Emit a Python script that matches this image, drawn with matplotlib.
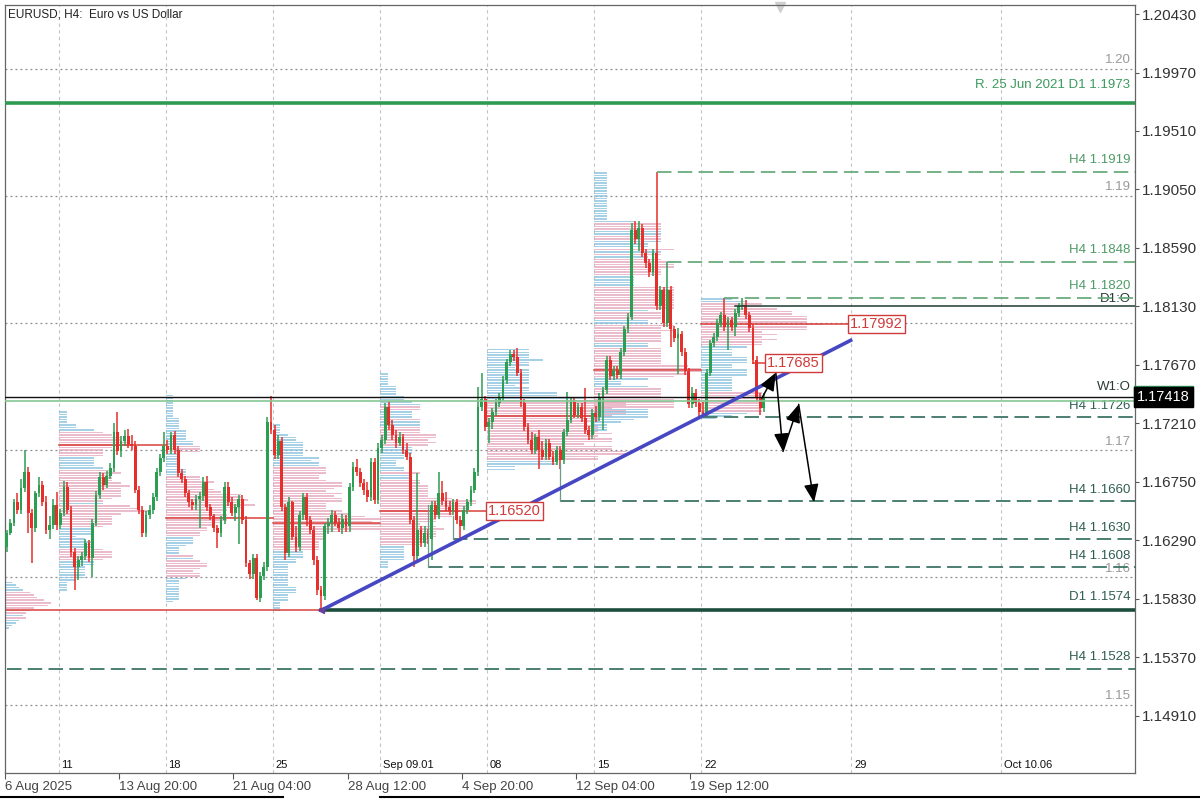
import numpy as np
import matplotlib.pyplot as plt
from matplotlib.lines import Line2D
from matplotlib.transforms import blended_transform_factory

plt.rcParams['font.family'] = ['Liberation Sans', 'DejaVu Sans']

# ---------------- data: H4 candles (open, high, low, close) ----------------
aug06 = [(1.1624, 1.1637, 1.1620, 1.1635), (1.1635, 1.1646, 1.1633, 1.1643), (1.1643, 1.1662, 1.1640, 1.1659),
         (1.1659, 1.1666, 1.1650, 1.1653), (1.1653, 1.1677, 1.1650, 1.1670), (1.1670, 1.1700, 1.1667, 1.1683),
         (1.1683, 1.1687, 1.1635, 1.1651), (1.1651, 1.1654, 1.1611, 1.1639), (1.1639, 1.1668, 1.1636, 1.1666),
         (1.1666, 1.1679, 1.1663, 1.1673), (1.1673, 1.1676, 1.1656, 1.1659), (1.1659, 1.1664, 1.1634, 1.1637),
         (1.1637, 1.1648, 1.1630, 1.1641), (1.1641, 1.1662, 1.1638, 1.1657), (1.1657, 1.1667, 1.1637, 1.1641)]

aug11 = [(1.1641, 1.1654, 1.1638, 1.1651), (1.1651, 1.1676, 1.1648, 1.1671), (1.1671, 1.1675, 1.1650, 1.1653),
         (1.1653, 1.1656, 1.1616, 1.1620), (1.1620, 1.1623, 1.1590, 1.1608), (1.1608, 1.1617, 1.1598, 1.1614),
         (1.1614, 1.1620, 1.1609, 1.1617), (1.1617, 1.1630, 1.1614, 1.1627), (1.1627, 1.1629, 1.1612, 1.1615),
         (1.1615, 1.1646, 1.1600, 1.1643), (1.1643, 1.1668, 1.1640, 1.1665), (1.1665, 1.1683, 1.1662, 1.1679),
         (1.1679, 1.1682, 1.1669, 1.1673), (1.1673, 1.1684, 1.1670, 1.1680), (1.1680, 1.1690, 1.1677, 1.1686),
         (1.1686, 1.1721, 1.1683, 1.1714), (1.1714, 1.1730, 1.1696, 1.1699), (1.1699, 1.1711, 1.1695, 1.1707),
         (1.1707, 1.1716, 1.1703, 1.1711), (1.1711, 1.1717, 1.1702, 1.1705), (1.1705, 1.1712, 1.1700, 1.1703),
         (1.1703, 1.1707, 1.1666, 1.1669), (1.1669, 1.1672, 1.1650, 1.1653), (1.1653, 1.1656, 1.1632, 1.1635),
         (1.1635, 1.1652, 1.1632, 1.1649), (1.1649, 1.1657, 1.1646, 1.1653), (1.1653, 1.1666, 1.1650, 1.1663),
         (1.1663, 1.1686, 1.1660, 1.1683), (1.1683, 1.1697, 1.1680, 1.1694), (1.1694, 1.1714, 1.1691, 1.1703)]

aug18 = [(1.1703, 1.1708, 1.1697, 1.1700), (1.1700, 1.1714, 1.1697, 1.1712), (1.1712, 1.1715, 1.1697, 1.1700),
         (1.1700, 1.1703, 1.1679, 1.1682), (1.1682, 1.1685, 1.1674, 1.1677), (1.1677, 1.1680, 1.1663, 1.1666),
         (1.1666, 1.1669, 1.1655, 1.1659), (1.1659, 1.1662, 1.1653, 1.1657), (1.1657, 1.1665, 1.1653, 1.1662),
         (1.1662, 1.1667, 1.1639, 1.1664), (1.1664, 1.1679, 1.1660, 1.1675), (1.1675, 1.1680, 1.1652, 1.1655),
         (1.1655, 1.1658, 1.1645, 1.1648), (1.1648, 1.1650, 1.1636, 1.1639), (1.1639, 1.1641, 1.1623, 1.1635),
         (1.1635, 1.1648, 1.1632, 1.1645), (1.1645, 1.1675, 1.1642, 1.1671), (1.1671, 1.1675, 1.1656, 1.1659),
         (1.1659, 1.1663, 1.1648, 1.1651), (1.1651, 1.1658, 1.1644, 1.1655), (1.1655, 1.1665, 1.1626, 1.1662),
         (1.1662, 1.1665, 1.1642, 1.1645), (1.1645, 1.1648, 1.1608, 1.1611), (1.1611, 1.1614, 1.1599, 1.1603),
         (1.1603, 1.1618, 1.1599, 1.1615), (1.1615, 1.1618, 1.1582, 1.1584), (1.1584, 1.1604, 1.1581, 1.1601),
         (1.1601, 1.1612, 1.1598, 1.1608), (1.1608, 1.1726, 1.1605, 1.1722), (1.1722, 1.1743, 1.1713, 1.1716)]

aug25 = [(1.1716, 1.1720, 1.1693, 1.1696), (1.1696, 1.1712, 1.1693, 1.1707), (1.1707, 1.1710, 1.1652, 1.1655),
         (1.1655, 1.1658, 1.1614, 1.1619), (1.1619, 1.1663, 1.1616, 1.1659), (1.1659, 1.1660, 1.1629, 1.1632),
         (1.1632, 1.1640, 1.1620, 1.1624), (1.1624, 1.1652, 1.1621, 1.1649), (1.1649, 1.1666, 1.1645, 1.1663),
         (1.1663, 1.1666, 1.1640, 1.1645), (1.1645, 1.1648, 1.1634, 1.1637), (1.1637, 1.1640, 1.1610, 1.1614),
         (1.1614, 1.1617, 1.1586, 1.1590), (1.1590, 1.1593, 1.1574, 1.1585), (1.1585, 1.1643, 1.1582, 1.1640),
         (1.1640, 1.1647, 1.1634, 1.1643), (1.1643, 1.1653, 1.1636, 1.1649), (1.1649, 1.1652, 1.1640, 1.1643),
         (1.1643, 1.1647, 1.1636, 1.1639), (1.1639, 1.1650, 1.1634, 1.1646), (1.1646, 1.1649, 1.1636, 1.1640),
         (1.1640, 1.1674, 1.1636, 1.1671), (1.1671, 1.1691, 1.1668, 1.1687), (1.1687, 1.1693, 1.1680, 1.1683),
         (1.1683, 1.1686, 1.1671, 1.1674), (1.1674, 1.1677, 1.1665, 1.1669), (1.1669, 1.1675, 1.1659, 1.1663),
         (1.1663, 1.1694, 1.1660, 1.1691), (1.1691, 1.1694, 1.1658, 1.1661), (1.1661, 1.1706, 1.1658, 1.1702)]

sep01 = [(1.1702, 1.1712, 1.1698, 1.1708), (1.1708, 1.1737, 1.1705, 1.1734), (1.1734, 1.1738, 1.1716, 1.1720),
         (1.1720, 1.1724, 1.1708, 1.1712), (1.1712, 1.1716, 1.1702, 1.1706), (1.1706, 1.1714, 1.1703, 1.1710),
         (1.1710, 1.1713, 1.1697, 1.1700), (1.1700, 1.1706, 1.1692, 1.1695), (1.1695, 1.1698, 1.1642, 1.1645),
         (1.1645, 1.1648, 1.1608, 1.1617), (1.1617, 1.1682, 1.1614, 1.1637), (1.1637, 1.1640, 1.1624, 1.1627),
         (1.1627, 1.1640, 1.1624, 1.1635), (1.1635, 1.1638, 1.1626, 1.1630), (1.1630, 1.1660, 1.1614, 1.1657),
         (1.1657, 1.1660, 1.1646, 1.1649), (1.1649, 1.1683, 1.1646, 1.1666), (1.1666, 1.1676, 1.1657, 1.1660),
         (1.1660, 1.1667, 1.1652, 1.1655), (1.1655, 1.1660, 1.1649, 1.1652), (1.1652, 1.1662, 1.1649, 1.1659),
         (1.1659, 1.1662, 1.1642, 1.1645), (1.1645, 1.1648, 1.1630, 1.1640), (1.1640, 1.1656, 1.1637, 1.1653),
         (1.1653, 1.1662, 1.1650, 1.1659), (1.1659, 1.1672, 1.1656, 1.1669), (1.1669, 1.1686, 1.1666, 1.1683),
         (1.1683, 1.1750, 1.1680, 1.1734), (1.1734, 1.1761, 1.1731, 1.1740), (1.1740, 1.1743, 1.1715, 1.1718)]

sep08 = [(1.1718, 1.1725, 1.1706, 1.1722), (1.1722, 1.1733, 1.1717, 1.1730), (1.1730, 1.1740, 1.1727, 1.1737),
         (1.1737, 1.1745, 1.1734, 1.1742), (1.1742, 1.1758, 1.1739, 1.1755), (1.1755, 1.1772, 1.1752, 1.1769),
         (1.1769, 1.1779, 1.1766, 1.1776), (1.1776, 1.1779, 1.1770, 1.1773), (1.1773, 1.1780, 1.1758, 1.1761),
         (1.1761, 1.1764, 1.1734, 1.1737), (1.1737, 1.1740, 1.1715, 1.1718), (1.1718, 1.1721, 1.1705, 1.1708),
         (1.1708, 1.1714, 1.1697, 1.1700), (1.1700, 1.1713, 1.1697, 1.1710), (1.1710, 1.1716, 1.1685, 1.1700),
         (1.1700, 1.1707, 1.1692, 1.1695), (1.1695, 1.1709, 1.1692, 1.1706), (1.1706, 1.1709, 1.1692, 1.1695),
         (1.1695, 1.1699, 1.1688, 1.1691), (1.1691, 1.1703, 1.1688, 1.1700), (1.1700, 1.1703, 1.1685, 1.1692),
         (1.1692, 1.1717, 1.1689, 1.1714), (1.1714, 1.1746, 1.1711, 1.1724), (1.1724, 1.1741, 1.1721, 1.1738),
         (1.1738, 1.1741, 1.1725, 1.1728), (1.1728, 1.1737, 1.1725, 1.1734), (1.1734, 1.1737, 1.1722, 1.1725),
         (1.1725, 1.1749, 1.1713, 1.1716), (1.1716, 1.1719, 1.1708, 1.1712), (1.1712, 1.1732, 1.1709, 1.1729)]

sep15 = [(1.1729, 1.1735, 1.1722, 1.1726), (1.1726, 1.1745, 1.1723, 1.1742), (1.1742, 1.1750, 1.1716, 1.1747),
         (1.1747, 1.1774, 1.1744, 1.1771), (1.1771, 1.1774, 1.1755, 1.1758), (1.1758, 1.1766, 1.1755, 1.1763),
         (1.1763, 1.1766, 1.1756, 1.1759), (1.1759, 1.1780, 1.1756, 1.1777), (1.1777, 1.1798, 1.1774, 1.1795),
         (1.1795, 1.1808, 1.1792, 1.1805), (1.1805, 1.1879, 1.1802, 1.1873), (1.1873, 1.1880, 1.1862, 1.1866),
         (1.1866, 1.1880, 1.1857, 1.1875), (1.1875, 1.1878, 1.1852, 1.1855), (1.1855, 1.1858, 1.1843, 1.1847),
         (1.1847, 1.1850, 1.1836, 1.1840), (1.1840, 1.1858, 1.1837, 1.1855), (1.1855, 1.1919, 1.1810, 1.1813),
         (1.1813, 1.1829, 1.1810, 1.1826), (1.1826, 1.1828, 1.1797, 1.1800), (1.1800, 1.1848, 1.1797, 1.1826),
         (1.1826, 1.1829, 1.1781, 1.1795), (1.1795, 1.1798, 1.1785, 1.1788), (1.1788, 1.1796, 1.1760, 1.1791),
         (1.1791, 1.1794, 1.1774, 1.1777), (1.1777, 1.1780, 1.1759, 1.1762), (1.1762, 1.1765, 1.1733, 1.1736),
         (1.1736, 1.1750, 1.1733, 1.1745), (1.1745, 1.1748, 1.1734, 1.1737), (1.1737, 1.1740, 1.1725, 1.1730)]

sep22 = [(1.1730, 1.1738, 1.1726, 1.1728), (1.1728, 1.1764, 1.1725, 1.1761), (1.1761, 1.1787, 1.1758, 1.1784),
         (1.1784, 1.1792, 1.1781, 1.1789), (1.1789, 1.1803, 1.1786, 1.1800), (1.1800, 1.1809, 1.1797, 1.1806),
         (1.1806, 1.1820, 1.1794, 1.1797), (1.1797, 1.1805, 1.1779, 1.1802), (1.1802, 1.1805, 1.1794, 1.1797),
         (1.1797, 1.1811, 1.1790, 1.1808), (1.1808, 1.1816, 1.1805, 1.1813), (1.1813, 1.1820, 1.1810, 1.1814),
         (1.1814, 1.1818, 1.1803, 1.1806), (1.1806, 1.1809, 1.1793, 1.1796), (1.1796, 1.1799, 1.1768, 1.1771),
         (1.1771, 1.1774, 1.1739, 1.1742), (1.1742, 1.1745, 1.1728, 1.1733), (1.1733, 1.1745, 1.1730, 1.1742)]

# tail of the previous week's volume profile seen at the left edge
tail_levels = [1.1596, 1.1594, 1.1592, 1.1590, 1.1588, 1.1586, 1.1584, 1.1582, 1.1580, 1.1578,
               1.1576, 1.1574, 1.1572, 1.1570, 1.1568, 1.1566, 1.1564, 1.1562, 1.1560]
tail_volume = [2, 3, 4, 5, 7, 8, 9, 11, 13, 12, 8, 7, 6, 5, 6, 4, 3, 2, 1]

# axis labels
week_starts = [15, 45, 75, 105, 135, 165, 195, 237, 279]
week_labels = ['11', '18', '25', 'Sep 09.01', '08', '15', '22', '29', 'Oct 10.06']
date_idx = [0, 32, 64, 96, 128, 160, 192]
date_labels = ['6 Aug 2025', '13 Aug 20:00', '21 Aug 04:00', '28 Aug 12:00', '4 Sep 20:00',
               '12 Sep 04:00', '19 Sep 12:00']
price_ticks = [1.20430, 1.19970, 1.19510, 1.19050, 1.18590, 1.18130, 1.17670,
               1.17210, 1.16750, 1.16290, 1.15830, 1.15370, 1.14910]
round_levels = [1.20, 1.19, 1.18, 1.17, 1.16, 1.15]
round_labels = ['1.20', '1.19', '', '1.17', '1.16', '1.15']

# analysis levels: (price, starting candle, label)
upper_levels = [(1.1919, 182, 'H4 1.1919'), (1.1848, 185, 'H4 1.1848'), (1.1820, 201, 'H4 1.1820')]
lower_levels = [(1.1726, 195, 'H4 1.1726'), (1.1660, 155, 'H4 1.1660'), (1.1630, 125, 'H4 1.1630'),
                (1.1608, 118, 'H4 1.1608'), (1.1528, 0, 'H4 1.1528')]
resistance = (1.1973, 'R. 25 Jun 2021 D1 1.1973')
support = (1.1574, 88, 'D1 1.1574')
day_open = (1.1813, 204, 'D1:O')
week_open = (1.17418, 'W1:O')
ask_line = 1.17385
bid, ask = 1.17418, 1.17436

# level markers (candle, from price, to price)
markers = [(155, 1.1690, 1.1660), (118, 1.1657, 1.1608), (125, 1.1648, 1.1630)]

# point of control lines (from, to, price) and price tags (candle, price)
poc_lines = [(-0.5, 88, 1.1574), (14.5, 44.5, 1.1704), (44.5, 74.5, 1.1647), (74.5, 104.5, 1.1643),
             (104.5, 134.8, 1.1652), (134.5, 164.5, 1.1727), (164.5, 194.5, 1.1763),
             (194.5, 236.2, 1.17992), (209, 213, 1.17685)]
price_tags = [(134.8, 1.16520), (236.2, 1.17992), (213.0, 1.17685)]

trend = [(88, 1.1574), (236.8, 1.1787)]
path = [(211.5, 1.1741), (215.4, 1.1761), (217.4, 1.1699), (221.8, 1.1736), (226.1, 1.1659)]

# ---------------- style ----------------
GREEN, RED = '#2c9e52', '#e62e2b'
BLUE, PINK = '#8cc3df', '#e6aabd'
UP_LVL, UP_TXT = '#6aab7d', '#4f9b68'
LO_LVL, LO_TXT = '#3d7567', '#2f5d52'
DASH = (0, (8, 3.5))
STEP = 0.0002
prof_len = [25, 25, 30, 27, 39, 30, 34]
LBL = dict(fontsize=9.5)

weeks = [aug06, aug11, aug18, aug25, sep01, sep08, sep15, sep22]
ohlc = np.array([c for w in weeks for c in w])
o, h, l, c = ohlc.T
idx = np.arange(len(ohlc))

fig = plt.figure(figsize=(12, 8), dpi=100)
ax = fig.add_axes([5 / 1200, 27 / 800, 1130 / 1200, 768 / 800])
ax.set_xlim(-0.5, 316)
ax.set_ylim(1.144616, 1.205008)

# grid
for ws in week_starts:
    ax.axvline(ws - 0.5, color='#c4c4c4', lw=0.8, ls=(0, (3, 3)), zorder=0)
tr = blended_transform_factory(ax.transAxes, ax.transData)
for lv, lb in zip(round_levels, round_labels):
    ax.axhline(lv, color='#8a8a8a', lw=0.9, ls=(0, (1.5, 2.5)), zorder=0)
    ax.text(0.996, lv + 0.0002, lb, transform=tr, ha='right', va='bottom', color='#9a9a9a', **LBL)


# volume profiles
def draw_profile(levels, vol, x0, length):
    vol = np.asarray(vol, float)
    order = np.argsort(-vol)
    cum = np.cumsum(vol[order]) / vol.sum()
    in_va = np.zeros(len(vol), bool)
    in_va[order[:np.searchsorted(cum, 0.7) + 1]] = True
    ax.barh(levels, vol / vol.max() * length, left=x0, height=STEP * 0.6,
            color=np.where(in_va, PINK, BLUE), alpha=0.78, lw=0, zorder=1)


draw_profile(tail_levels, tail_volume, -0.5, 13)
start = len(aug06)
for w, plen in zip(weeks[1:], prof_len):
    wa = np.array(w)
    levels = np.arange(wa[:, 2].min(), wa[:, 1].max() + STEP / 2, STEP)
    vol = [np.sum((wa[:, 2] <= p) & (wa[:, 1] >= p)) for p in levels]
    draw_profile(levels, vol, start - 0.5, plen)
    start += len(w)

for x0, x1, p in poc_lines:
    ax.plot([x0, x1], [p, p], color='#d9403a', lw=1.1, zorder=2)

# candles
col = np.where(c >= o, GREEN, RED)
ax.vlines(idx, l, h, colors=col, lw=1.1, zorder=4)
ax.bar(idx, np.maximum(np.abs(c - o), 0.00004), bottom=np.minimum(o, c), width=0.78,
       color=col, lw=0, zorder=4)

# levels
ax.axhline(resistance[0], color='#2f9a52', lw=2.6, zorder=5)
ax.annotate(resistance[1], (0.996, resistance[0]), xycoords=tr, xytext=(0, 9), textcoords='offset points',
            ha='right', va='bottom', color='#3a9a5c', **LBL)
for p, x0, lb in upper_levels:
    ax.plot([x0, 316], [p, p], color=UP_LVL, lw=1.3, ls=DASH, zorder=5)
    ax.annotate(lb, (0.996, p), xycoords=tr, xytext=(0, 4), textcoords='offset points',
                ha='right', va='bottom', color=UP_TXT, **LBL)
for p, x0, lb in lower_levels:
    ax.plot([x0, 316], [p, p], color=LO_LVL, lw=1.3, ls=DASH, zorder=5)
    ax.annotate(lb, (0.996, p), xycoords=tr, xytext=(0, 4), textcoords='offset points',
                ha='right', va='bottom', color=LO_TXT, **LBL)
for x, p0, p1 in markers:
    ax.plot([x, x], [p0, p1], color='#6f9a88', lw=0.9, zorder=5)

ax.plot([support[1], 316], [support[0]] * 2, color='#1d4d3c', lw=2.6, zorder=5)
ax.annotate(support[2], (0.996, support[0]), xycoords=tr, xytext=(0, 5), textcoords='offset points',
            ha='right', va='bottom', color=LO_TXT, **LBL)
ax.plot([day_open[1], 316], [day_open[0]] * 2, color='#1f3a30', lw=1.1, zorder=5)
ax.annotate(day_open[2], (0.996, day_open[0]), xycoords=tr, xytext=(0, 1), textcoords='offset points',
            ha='right', va='bottom', color='#2a3a34', **LBL)
ax.axhline(ask_line, color='#86c794', lw=1.2, zorder=5)
ax.axhline(week_open[0], color='#111111', lw=1.0, zorder=5)
ax.annotate(week_open[1], (0.996, week_open[0]), xycoords=tr, xytext=(0, 3), textcoords='offset points',
            ha='right', va='bottom', color='#2a3a34', **LBL)

# trend line and projected path
(tx0, ty0), (tx1, ty1) = trend
ax.plot([tx0, tx1], [ty0, ty1], color='#4747c4', lw=2.6, zorder=6, solid_capstyle='butt')
ax.plot(tx0, ty0, marker='<', ms=5, color='#6a3fa0', zorder=6)
for a, b in zip(path[:-1], path[1:]):
    ax.annotate('', xy=b, xytext=a, zorder=7,
                arrowprops=dict(arrowstyle='-|>,head_length=1.1,head_width=0.45', color='black',
                                lw=1.1, mutation_scale=10, shrinkA=0, shrinkB=0))

for x, p in price_tags:
    ax.text(x, p, f'{p:.5f}', color='#d03a3a', fontsize=10.5, ha='left', va='center', zorder=8,
            bbox=dict(boxstyle='square,pad=0.15', fc='white', ec='#d03a3a', lw=1))

# axes
ax.yaxis.tick_right()
ax.set_yticks(price_ticks, [f'{t:.5f}' for t in price_ticks])
ax.tick_params(axis='y', length=3, width=0.8, color='#555555', labelsize=11, labelcolor='#333333', pad=2)
ax.set_xticks([d - 0.5 for d in date_idx], date_labels)
ax.tick_params(axis='x', length=4, width=0.8, color='#555555', labelsize=9.5, labelcolor='#444444', pad=2)
for t in ax.get_xticklabels():
    t.set_horizontalalignment('left')
for s in ax.spines.values():
    s.set_color('#666666')
    s.set_linewidth(0.9)

trx = blended_transform_factory(ax.transData, ax.transAxes)
for ws, lb in zip(week_starts, week_labels):
    ax.text(ws + 0.3, 0.004, lb, transform=trx, ha='left', va='bottom', fontsize=8, color='#111111')

ax.text(0.003, 0.995, 'EURUSD, H4:  Euro vs US Dollar', transform=ax.transAxes, ha='left', va='top',
        fontsize=8.5, color='#222222')
ax.plot(0.686, 0.997, marker='v', ms=7, color='#d0d0d0', transform=ax.transAxes, clip_on=False)

ax.text(1.002, ask - 0.0001, f'{ask:.5f}', transform=tr, ha='left', va='center', color='white',
        fontsize=10.5, bbox=dict(boxstyle='square,pad=0.2', fc='#2f9a52', ec='#2f9a52'), zorder=9)
ax.text(1.002, bid, f'{bid:.5f}', transform=tr, ha='left', va='center', color='white',
        fontsize=10.5, bbox=dict(boxstyle='square,pad=0.2', fc='black', ec='black'), zorder=10)

fig.add_artist(Line2D([0, 283 / 1200], [0.004, 0.004], color='black', lw=1.5))
fig.add_artist(Line2D([380 / 1200, 1], [0.004, 0.004], color='black', lw=1.5))

fig.savefig('out.png', dpi=100)
